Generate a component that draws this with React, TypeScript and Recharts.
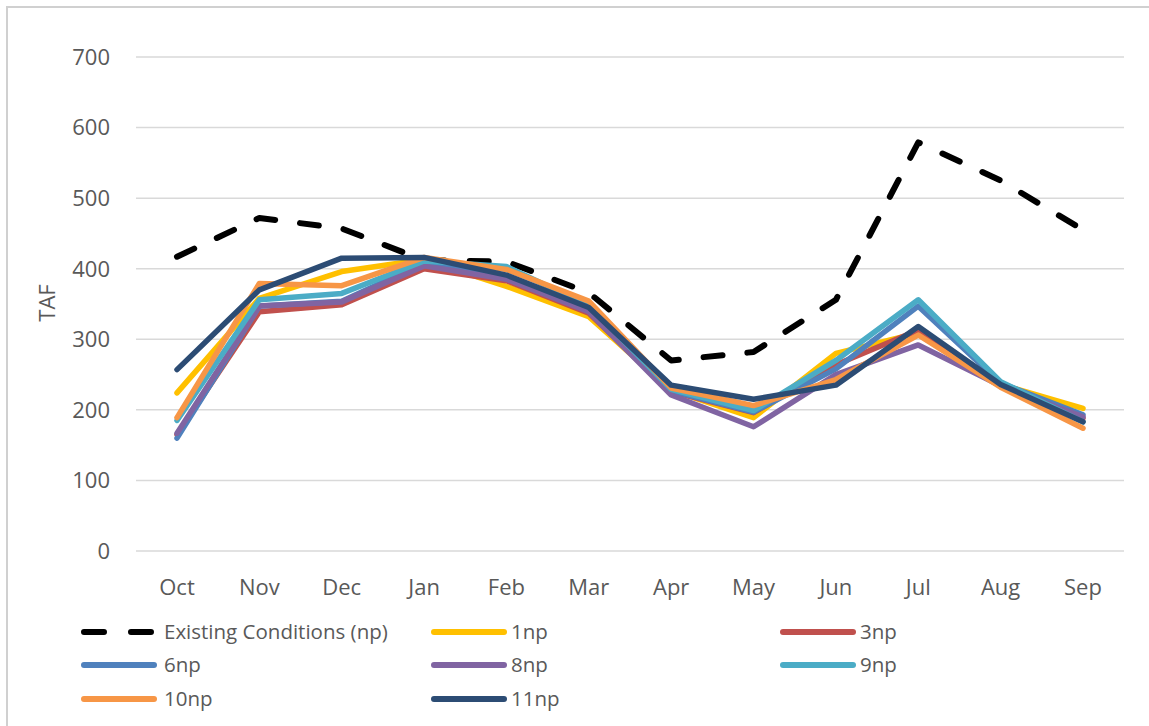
import { LineChart, Line, XAxis, YAxis, CartesianGrid } from 'recharts';

const months = ['Oct', 'Nov', 'Dec', 'Jan', 'Feb', 'Mar', 'Apr', 'May', 'Jun', 'Jul', 'Aug', 'Sep'];
const yTicks = [0, 100, 200, 300, 400, 500, 600, 700];

const existing = [417, 472, 457, 412, 410, 366, 270, 282, 356, 579, 525, 455];
const np1 = [224, 358, 396, 413, 375, 332, 228, 189, 280, 309, 236, 202];
const np3 = [165, 339, 349, 400, 383, 337, 226, 196, 264, 313, 233, 188];
const np6 = [160, 347, 354, 408, 388, 342, 227, 197, 258, 347, 238, 193];
const np8 = [167, 347, 353, 404, 385, 339, 221, 176, 250, 292, 234, 190];
const np9 = [185, 356, 365, 411, 403, 348, 229, 199, 270, 356, 240, 183];
const np10 = [189, 379, 376, 416, 399, 354, 231, 206, 243, 306, 232, 174];
const np11 = [257, 370, 415, 416, 391, 345, 235, 215, 235, 318, 236, 183];

const series = [
  { key: 'existing', name: 'Existing Conditions (np)', color: '#000000', dash: true, values: existing },
  { key: 'np1', name: '1np', color: '#FFC000', dash: false, values: np1 },
  { key: 'np3', name: '3np', color: '#C0504D', dash: false, values: np3 },
  { key: 'np6', name: '6np', color: '#4F81BD', dash: false, values: np6 },
  { key: 'np8', name: '8np', color: '#8064A2', dash: false, values: np8 },
  { key: 'np9', name: '9np', color: '#4BACC6', dash: false, values: np9 },
  { key: 'np10', name: '10np', color: '#F79646', dash: false, values: np10 },
  { key: 'np11', name: '11np', color: '#2C4C74', dash: false, values: np11 },
];

const data = months.map((m, i) => {
  const row: Record<string, string | number> = { month: m };
  series.forEach(s => {
    row[s.key] = s.values[i];
  });
  return row;
});

const FONT = '"Open Sans", "Noto Sans", sans-serif';
const TEXT = '#595959';

// legend grid: 3 columns, 3 rows
const legendCols = [84, 434, 783];
const legendRows = [632, 665, 699];

export default function App() {
  return (
    <div
      style={{
        position: 'fixed',
        left: 0,
        top: 0,
        width: 1149,
        height: 726,
        overflow: 'hidden',
        background: '#fff',
        fontFamily: FONT,
      }}
    >
      <div
        style={{
          position: 'absolute',
          left: 46,
          top: 303,
          transform: 'translate(-50%, -50%) rotate(-90deg)',
          fontSize: 22,
          color: TEXT,
          whiteSpace: 'nowrap',
        }}
      >
        TAF
      </div>
      <div style={{ position: 'absolute', left: 0, top: 0 }}>
        <LineChart width={1149} height={600} data={data} margin={{ top: 57, right: 25, left: 0, bottom: 0 }}>
          <CartesianGrid vertical={false} stroke="#d9d9d9" strokeWidth={1.5} />
          <XAxis
            dataKey="month"
            axisLine={false}
            tickLine={false}
            height={49}
            padding={{ left: 41, right: 41 }}
            tickMargin={22}
            tick={{ fill: TEXT, fontSize: 22, fontFamily: FONT }}
            interval={0}
          />
          <YAxis
            width={136}
            domain={[0, 700]}
            ticks={yTicks}
            axisLine={false}
            tickLine={false}
            tickMargin={20}
            tick={{ fill: TEXT, fontSize: 22, fontFamily: FONT }}
          />
          {series.map(s => (
            <Line
              key={s.key}
              type="linear"
              dataKey={s.key}
              name={s.name}
              stroke={s.color}
              strokeWidth={s.dash ? 6 : 5.5}
              strokeDasharray={s.dash ? '19 25' : undefined}
              strokeLinecap="round"
              strokeLinejoin="round"
              dot={false}
              isAnimationActive={false}
            />
          ))}
        </LineChart>
      </div>
      {series.map((s, i) => {
        const x = legendCols[i % 3];
        const y = legendRows[Math.floor(i / 3)];
        return (
          <div key={s.key}>
            <svg style={{ position: 'absolute', left: x - 4, top: y - 6 }} width={80} height={12}>
              <line
                x1={4}
                y1={6}
                x2={74}
                y2={6}
                stroke={s.color}
                strokeWidth={6}
                strokeLinecap="round"
                strokeDasharray={s.dash ? '20 27' : undefined}
              />
            </svg>
            <span
              style={{
                position: 'absolute',
                left: x + (i % 3 === 0 ? 80 : 77),
                top: y,
                transform: 'translateY(-52%)',
                fontSize: 20.5,
                color: TEXT,
                whiteSpace: 'nowrap',
                lineHeight: 1,
              }}
            >
              {s.name}
            </span>
          </div>
        );
      })}
      {/* chart area frame, right and bottom edges fall outside the picture */}
      <div
        style={{
          position: 'absolute',
          left: 6,
          top: 6,
          width: 1160,
          height: 740,
          border: '2px solid #d0d0d0',
          pointerEvents: 'none',
          zIndex: 10,
        }}
      />
    </div>
  );
}
